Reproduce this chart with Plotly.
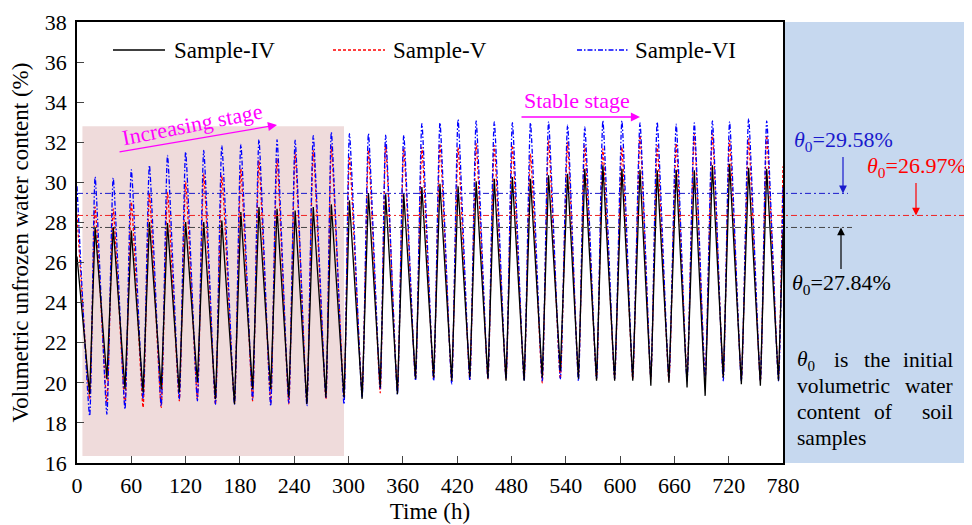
import plotly.graph_objects as go

# ---------------- data ----------------
peak_times = [20, 40, 60, 80, 100, 120, 140, 160, 181, 201, 221, 241, 261,
              281, 301, 322, 341, 361, 381, 401, 421, 441, 461, 481, 501, 521,
              542, 561, 581, 602, 622, 641, 662, 682, 702, 721, 742, 762]
trough_times = [14, 33, 53, 73, 93, 113, 133, 153, 174, 194, 214, 234, 254,
                275, 295, 315, 335, 354, 374, 394, 414, 434, 454, 474, 494, 514,
                534, 554, 574, 594, 614, 634, 654, 674, 694, 714, 734, 755, 775]
start_time = 0
end_time = 780

iv_start, iv_end = 26.3, 27.5
iv_peaks = [27.77, 27.77, 27.6, 28.02, 27.97, 28.02, 28.02, 28.1, 28.52, 28.77,
            28.68, 28.6, 28.77, 28.9, 29.1, 29.47, 29.4, 29.43, 29.77, 29.93,
            29.8, 30.05, 30.18, 30.27, 30.18, 30.35, 30.43, 30.68, 30.85, 30.68,
            30.63, 30.6, 30.63, 30.6, 30.85, 30.93, 30.73, 30.68]
iv_troughs = [19.43, 20.18, 19.68, 19.52, 19.68, 19.52, 20.02, 19.18, 18.93,
              19.68, 19.68, 19.27, 18.95, 19.27, 19.27, 19.2, 19.77, 19.43,
              20.2, 20.27, 20.1, 20.27, 20.2, 20.1, 20.1, 20.27, 20.6, 20.2,
              20.1, 20.1, 20.1, 19.85, 20.0, 19.77, 19.35, 20.27, 19.93, 19.85, 20.1]

v_start, v_end = 28.4, 30.8
v_peaks = [28.77, 28.68, 29.02, 29.43, 29.5, 30.02, 30.43, 30.35, 30.68, 31.1,
           31.18, 31.5, 31.6, 31.8, 31.3, 31.6, 31.9, 31.7, 31.75, 31.93, 31.75,
           31.93, 31.85, 31.85, 31.43, 32.1, 32.0, 31.85, 31.68, 31.75, 32.35,
           31.85, 31.93, 32.43, 32.43, 32.1, 32.18, 32.35]
v_troughs = [19.2, 19.0, 18.85, 18.77, 18.77, 19.1, 19.2, 18.93, 19.0, 19.1,
             19.0, 18.95, 19.0, 19.2, 19.3, 19.5, 19.5, 19.6, 20.2, 20.2, 20.1,
             20.2, 20.2, 20.2, 20.2, 20.0, 20.2, 20.3, 20.2, 20.2, 20.2, 20.2,
             20.1, 20.3, 20.2, 20.3, 20.2, 20.1, 20.3]

vi_start, vi_end = 29.8, 29.8
vi_peaks = [30.27, 30.22, 30.63, 30.85, 31.35, 31.52, 31.6, 31.83, 31.9, 32.13,
            32.13, 32.1, 32.33, 32.5, 32.43, 32.43, 32.35, 32.35, 32.93, 32.97,
            33.13, 33.07, 33.02, 32.98, 32.97, 33.02, 32.85, 32.77, 33.07, 33.07,
            32.97, 33.02, 32.9, 32.97, 33.07, 33.02, 33.18, 33.07]
vi_troughs = [18.35, 18.43, 18.68, 19.18, 18.85, 19.18, 19.1, 18.93, 18.93,
              19.18, 18.85, 19.0, 18.85, 19.27, 18.93, 19.27, 19.7, 19.43, 20.1,
              20.1, 19.93, 20.1, 20.2, 20.2, 20.1, 20.1, 20.2, 20.1, 20.2, 20.2,
              20.3, 20.3, 20.2, 20.1, 20.3, 20.1, 20.1, 20.1, 20.1]

# initial water content lines (drawn level / labelled value)
theta_lines = {"VI": 29.45, "V": 28.35, "IV": 27.75}
theta_labels = {"VI": "29.58%", "V": "26.97%", "IV": "27.84%"}

x_ticks = list(range(0, 781, 60))
y_ticks = list(range(16, 39, 2))

# ---------------- build ----------------
def series_x():
    xs = [start_time]
    for i in range(len(peak_times)):
        xs += [trough_times[i], peak_times[i]]
    xs += [trough_times[-1], end_time]
    return xs

def series_y(start, troughs, peaks, end):
    ys = [start]
    for i in range(len(peaks)):
        ys += [troughs[i], peaks[i]]
    ys += [troughs[-1], end]
    return ys

FONT = "Liberation Serif"
X0, X1, Y0, Y1 = 0, 780, 16, 38
OFF = 8                      # page body margin of the html page
W, H = 972 - OFF, 525 - OFF
L, R, T, B = 77, 783, 22, 463   # plot box in screen pixels
PW, PH = R - L, B - T

def yp(v):
    return (v - Y0) / (Y1 - Y0)

def pxx(px):
    return (px - L) / PW

def pxy(py):
    return (B - py) / PH

fig = go.Figure()
xs = series_x()
fig.add_trace(go.Scatter(x=xs, y=series_y(v_start, v_troughs, v_peaks, v_end),
                         mode="lines", name="Sample-V", showlegend=False,
                         line=dict(color="#ff0000", width=1.3, dash="3px,2px",
                                   shape="spline", smoothing=0.45)))
fig.add_trace(go.Scatter(x=xs, y=series_y(vi_start, vi_troughs, vi_peaks, vi_end),
                         mode="lines", name="Sample-VI", showlegend=False,
                         line=dict(color="#0000ff", width=1.3, dash="5px,2px,1.5px,2px",
                                   shape="spline", smoothing=0.5)))
fig.add_trace(go.Scatter(x=xs, y=series_y(iv_start, iv_troughs, iv_peaks, iv_end),
                         mode="lines", name="Sample-IV", showlegend=False,
                         line=dict(color="black", width=1.3)))

shapes = []
# increasing-stage background
shapes.append(dict(type="rect", xref="x", yref="y", x0=6, x1=295, y0=16.35, y1=32.8,
                   fillcolor="#efdbdb", line=dict(width=0), layer="below"))
# right info panel
shapes.append(dict(type="rect", xref="paper", yref="paper", x0=1.0, x1=pxx(966), y0=0, y1=1,
                   fillcolor="#c6d8ef", line=dict(width=0), layer="below"))
# theta lines
DD = "6px,3px,2px,3px"
shapes.append(dict(type="line", xref="paper", yref="paper", x0=0, x1=pxx(848),
                   y0=yp(theta_lines["VI"]), y1=yp(theta_lines["VI"]),
                   line=dict(color="#1a1acc", width=1, dash=DD)))
shapes.append(dict(type="line", xref="paper", yref="paper", x0=0, x1=pxx(966),
                   y0=yp(theta_lines["V"]), y1=yp(theta_lines["V"]),
                   line=dict(color="#ee2222", width=1, dash=DD)))
shapes.append(dict(type="line", xref="paper", yref="paper", x0=0, x1=pxx(852),
                   y0=yp(theta_lines["IV"]), y1=yp(theta_lines["IV"]),
                   line=dict(color="#444444", width=1, dash=DD)))

# manual legend (line sample + label)
leg_y = pxy(50)
legend_items = [("Sample-IV", "black", "solid", 113, 165, 172),
                ("Sample-V", "#ff0000", "3px,2px", 333, 385, 391),
                ("Sample-VI", "#0000ff", "5px,2px,1.5px,2px", 577, 629, 633)]
annotations = []
for name, col, dash, a, b, tx in legend_items:
    shapes.append(dict(type="line", xref="paper", yref="paper", x0=pxx(a), x1=pxx(b),
                       y0=leg_y, y1=leg_y, line=dict(color=col, width=1.3, dash=dash)))
    annotations.append(dict(xref="paper", yref="paper", x=pxx(tx), y=leg_y, text=name,
                            showarrow=False, xanchor="left", yanchor="middle",
                            font=dict(family=FONT, size=23, color="black")))

MAG = "#ff00ff"
# stage labels / arrows
annotations.append(dict(xref="x", yref="y", x=127, y=32.9, text="Increasing stage",
                        showarrow=False, textangle=-11,
                        font=dict(family=FONT, size=22, color=MAG)))
annotations.append(dict(xref="x", yref="y", x=221, y=32.86, ax=-159, ay=27, text="",
                        showarrow=True, arrowhead=2, arrowsize=1.4, arrowwidth=1.3,
                        arrowcolor=MAG))
annotations.append(dict(xref="x", yref="y", x=552, y=34.06, text="Stable stage",
                        showarrow=False, font=dict(family=FONT, size=22, color=MAG)))
annotations.append(dict(xref="x", yref="y", x=622, y=33.26, ax=-120, ay=0, text="",
                        showarrow=True, arrowhead=2, arrowsize=1.4, arrowwidth=1.3,
                        arrowcolor=MAG))

# theta annotations: text with arrow pointing to its line
theta_specs = [("VI", "#1a1acc", 843, -52), ("V", "#ff0000", 916, -48), ("IV", "black", 841, 57)]
for key, col, px, ay in theta_specs:
    annotations.append(dict(xref="paper", yref="paper", x=pxx(px), y=yp(theta_lines[key]),
                            ax=0, ay=ay, text="<i>θ</i><sub>0</sub>=" + theta_labels[key],
                            showarrow=True, arrowhead=2, arrowsize=1.3, arrowwidth=1.2,
                            arrowcolor=col, standoff=0, startstandoff=0,
                            font=dict(family=FONT, size=22, color=col)))

# justified note text, word by word
note_lines = [
    (360, [("<i>θ</i><sub>0</sub>", 795, "left"), ("is", 841, "center"), ("the", 877, "center"), ("initial", 955, "right")]),
    (386, [("volumetric", 795, "left"), ("water", 955, "right")]),
    (412, [("content", 795, "left"), ("of", 884, "center"), ("soil", 955, "right")]),
    (438, [("samples", 795, "left")]),
]
for py, words in note_lines:
    for w, px, anc in words:
        annotations.append(dict(xref="paper", yref="paper", x=pxx(px), y=pxy(py),
                                text=w, showarrow=False, xanchor=anc, yanchor="middle",
                                font=dict(family=FONT, size=21.5, color="black")))

fig.update_layout(
    width=W, height=H,
    margin=dict(l=L - OFF, r=W - (R - OFF), t=T - OFF, b=H - (B - OFF), autoexpand=False),
    paper_bgcolor="white", plot_bgcolor="white",
    font=dict(family=FONT, size=22, color="black"),
    shapes=shapes, annotations=annotations,
    showlegend=False,
)
fig.update_xaxes(range=[X0, X1], tickvals=x_ticks, ticks="inside", ticklen=7, tickwidth=1.2,
                 showline=True, linewidth=1.5, linecolor="black", mirror=True,
                 showgrid=False, zeroline=False, automargin=False, ticklabelstandoff=2,
                 title=dict(text="Time (h)", font=dict(family=FONT, size=23), standoff=6),
                 tickfont=dict(family=FONT, size=22))
fig.update_yaxes(range=[Y0, Y1], tickvals=y_ticks, ticks="inside", ticklen=7, tickwidth=1.2,
                 showline=True, linewidth=1.5, linecolor="black", mirror=True,
                 showgrid=False, zeroline=False, automargin=False, ticklabelstandoff=4,
                 title=dict(text="Volumetric unfrozen water content (%)", font=dict(family=FONT, size=23), standoff=10),
                 tickfont=dict(family=FONT, size=22))

fig.write_html("out.html")
